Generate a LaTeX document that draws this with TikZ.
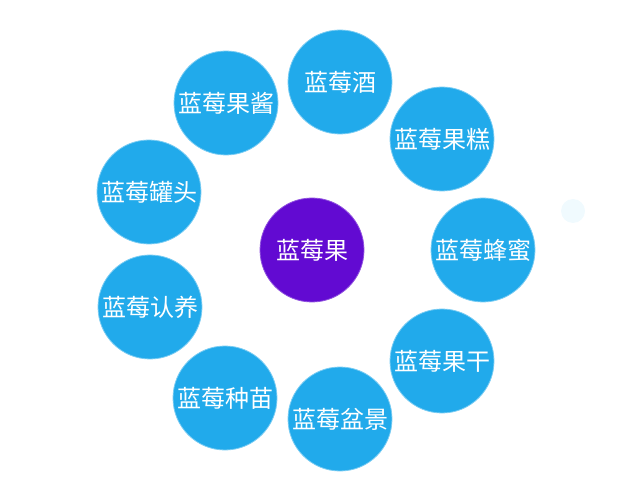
\documentclass[tikz,border=0pt]{standalone}
\usepackage{fontspec}
\newfontfamily\cjk{Noto Sans CJK SC}
\usepackage{xcolor}
\usetikzlibrary{positioning}

\definecolor{berryblue}{RGB}{33,170,235}
\definecolor{berrypurple}{RGB}{98,10,210}

\begin{document}
\begin{tikzpicture}[
    x=1pt, y=-1pt,
    item/.style={circle, fill=berryblue, draw=berryblue!60!white, line width=0.8pt, minimum size=104pt, inner sep=0pt, text=white, font=\cjk\fontsize{24}{26}\selectfont},
    hub/.style={item, fill=berrypurple, draw=berrypurple!70!white}
]
    \useasboundingbox (0,0) rectangle (640,486);

    \node[hub] (fruit) at (312,250) {蓝莓果};

    \node[item] (wine) at (340,82) {蓝莓酒};
    \node[item] (cake) at (442,139) {蓝莓果糕};
    \node[item] (honey) at (483,250) {蓝莓蜂蜜};
    \node[item] (dried) at (442,361) {蓝莓果干};
    \node[item] (bonsai) at (340,419) {蓝莓盆景};
    \node[item] (seedling) at (225,398) {蓝莓种苗};
    \node[item] (adopt) at (150,307) {蓝莓认养};
    \node[item] (canned) at (149,192) {蓝莓罐头};
    \node[item] (jam) at (226,103) {蓝莓果酱};

    % faint spot at the right
    \fill[cyan!6] (573,211) circle (12);
\end{tikzpicture}
\end{document}
